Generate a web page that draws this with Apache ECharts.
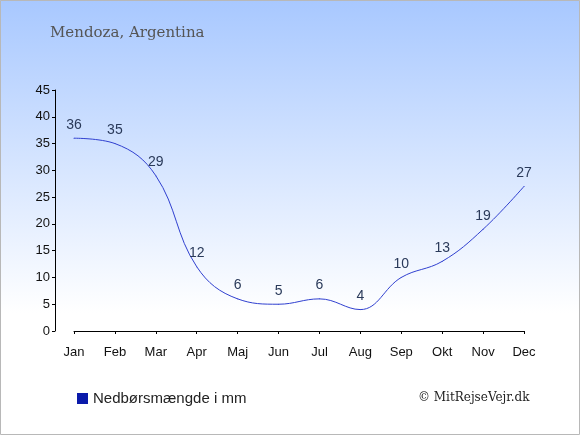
<!DOCTYPE html>
<html>
<head>
    <meta charset="utf-8">
    <title>Mendoza, Argentina</title>
    <style>
        * { margin: 0; padding: 0; }
        #main { width: 580px; height: 435px; }
    </style>
    <script src="https://cdn.jsdelivr.net/npm/echarts@6/dist/echarts.min.js"></script>
</head>
<body>
    <div id="main"></div>
    <script type="text/javascript">
        // data
        const months = ['Jan', 'Feb', 'Mar', 'Apr', 'Maj', 'Jun', 'Jul', 'Aug', 'Sep', 'Okt', 'Nov', 'Dec'];
        const rain = [36, 35, 29, 12, 6, 5, 6, 4, 10, 13, 19, 27];
        const seriesName = 'Nedbørsmængde i mm';

        const chart = echarts.init(document.getElementById('main'));

        const option = {
            animation: false,
            backgroundColor: new echarts.graphic.LinearGradient(0, 0, 0, 1, [
                { offset: 0, color: '#a8c8ff' },
                { offset: 0.72, color: '#ffffff' },
                { offset: 1, color: '#ffffff' }
            ]),
            title: {
                text: 'Mendoza, Argentina',
                left: 45,
                top: 21,
                textStyle: {
                    fontFamily: 'DejaVu Serif',
                    fontWeight: 'normal',
                    fontSize: 15,
                    color: '#555555'
                }
            },
            legend: {
                left: 72,
                top: 386,
                itemWidth: 11,
                itemHeight: 11,
                itemGap: 6,
                icon: 'rect',
                textStyle: {
                    fontFamily: 'Liberation Sans',
                    fontSize: 15,
                    color: '#222222'
                },
                data: [{ name: seriesName, itemStyle: { color: '#0a1aaa' } }]
            },
            graphic: [
                {
                    type: 'rect',
                    shape: { x: 0.5, y: 0.5, width: 579, height: 434 },
                    style: { fill: 'none', stroke: '#b8b8b8', lineWidth: 1 },
                    silent: true
                },
                {
                    type: 'text',
                    left: 418,
                    top: 392,
                    style: {
                        text: '© MitRejseVejr.dk',
                        fontFamily: 'DejaVu Serif',
                        fontSize: 12,
                        fill: '#222222'
                    }
                }
            ],
            grid: {
                left: 74,
                right: 56,
                top: 90,
                bottom: 104
            },
            xAxis: {
                type: 'category',
                data: months,
                boundaryGap: false,
                offset: 10,
                axisLine: { lineStyle: { color: '#000', width: 1 } },
                axisTick: { alignWithLabel: true, length: 3, inside: false, lineStyle: { color: '#000' } },
                axisLabel: {
                    fontFamily: 'Liberation Sans',
                    fontSize: 13,
                    color: '#111',
                    margin: 5
                },
                splitLine: { show: false }
            },
            yAxis: {
                type: 'value',
                min: 0,
                max: 45,
                interval: 5,
                offset: 19,
                axisLine: { show: true, lineStyle: { color: '#000', width: 1 } },
                axisTick: { show: true, length: 3, lineStyle: { color: '#000' } },
                axisLabel: {
                    fontFamily: 'Liberation Sans',
                    fontSize: 13,
                    color: '#111',
                    margin: 5
                },
                splitLine: { show: false }
            },
            series: [{
                name: seriesName,
                type: 'line',
                data: rain,
                smooth: 0.4,
                showSymbol: true,
                symbol: 'circle',
                symbolSize: 1,
                itemStyle: { color: '#3040d0' },
                lineStyle: { color: '#3040d0', width: 1 },
                label: {
                    show: true,
                    position: 'top',
                    distance: 6,
                    fontFamily: 'Liberation Sans',
                    fontSize: 14,
                    color: '#2a3a5a'
                }
            }]
        };

        chart.setOption(option);
    </script>
</body>
</html>
